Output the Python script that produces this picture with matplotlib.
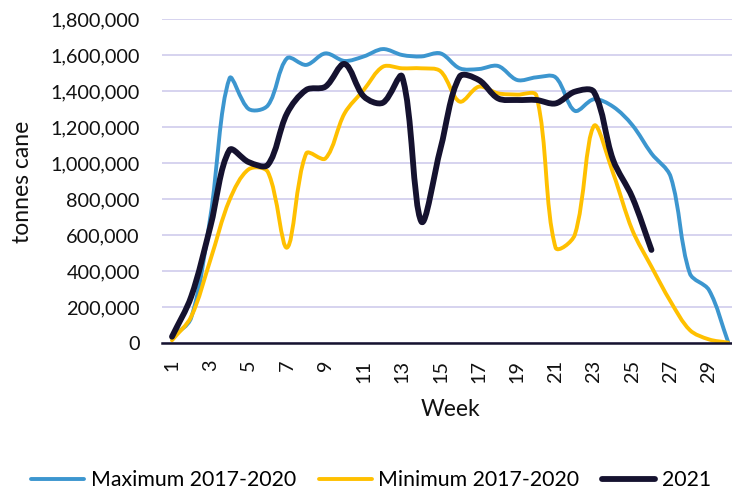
import matplotlib
matplotlib.use('Agg')
import matplotlib.pyplot as plt
from matplotlib.path import Path
from matplotlib.patches import PathPatch
from matplotlib.lines import Line2D
from matplotlib.ticker import FuncFormatter

plt.rcParams['font.family'] = ['Lato', 'DejaVu Sans']

# Dados (toneladas de cana por semana)
weeks = list(range(1, 31))
max_2017_2020 = [30000, 140000, 700000, 1470000, 1300000, 1320000, 1582000, 1545000,
                 1609000, 1567000, 1592000, 1633000, 1600000, 1592000, 1609000, 1526000,
                 1522000, 1539000, 1461000, 1476000, 1476000, 1290000, 1354000, 1313000,
                 1211000, 1053000, 924000, 387000, 294000, 5000]
min_2017_2020 = [15000, 146000, 461000, 794000, 965000, 950000, 530000, 1053000,
                 1025000, 1276000, 1406000, 1535000, 1526000, 1526000, 1510000, 1341000,
                 1424000, 1387000, 1380000, 1375000, 530000, 600000, 1206000, 944000,
                 628000, 424000, 230000, 72000, 20000, 2000]
weeks_2021 = list(range(1, 27))
vals_2021 = [35000, 257000, 646000, 1072000, 1005000, 990000, 1276000, 1406000,
             1424000, 1550000, 1370000, 1335000, 1480000, 675000, 1080000, 1480000,
             1461000, 1359000, 1350000, 1350000, 1331000, 1396000, 1395000, 1017000,
             810000, 517000]

series = [
    ('Maximum 2017-2020', weeks, max_2017_2020, '#3C96CF', 2.8),
    ('Minimum 2017-2020', weeks, min_2017_2020, '#FFC000', 2.8),
    ('2021', weeks_2021, vals_2021, '#15122F', 4.2),
]

XLIM = (0.48, 30.2)
YLIM = (0, 1800000)
AX_W, AX_H = 570, 324  # tamanho da área do gráfico em pixels


def curva_suave(xs, ys):
    # linha suavizada estilo Excel: Bezier com tangentes ponderadas pela
    # distância em pixels entre pontos vizinhos
    sx = AX_W / (XLIM[1] - XLIM[0])
    sy = AX_H / (YLIM[1] - YLIM[0])
    pts = [(x * sx, y * sy) for x, y in zip(xs, ys)]
    n = len(pts)

    def dist(a, b):
        return ((a[0] - b[0]) ** 2 + (a[1] - b[1]) ** 2) ** 0.5

    ctrl_in, ctrl_out = [], []
    for i in range(n):
        p = pts[i]
        a = pts[i - 1] if i > 0 else p
        b = pts[i + 1] if i < n - 1 else p
        d_in, d_out = dist(a, p), dist(p, b)
        tot = d_in + d_out or 1.0
        tx, ty = b[0] - a[0], b[1] - a[1]
        k = 1 / 3
        ctrl_in.append((p[0] - tx * d_in / tot * k, p[1] - ty * d_in / tot * k))
        ctrl_out.append((p[0] + tx * d_out / tot * k, p[1] + ty * d_out / tot * k))

    verts = [pts[0]]
    codes = [Path.MOVETO]
    for i in range(n - 1):
        verts += [ctrl_out[i], ctrl_in[i + 1], pts[i + 1]]
        codes += [Path.CURVE4] * 3
    verts = [(vx / sx, vy / sy) for vx, vy in verts]
    return Path(verts, codes)


fig = plt.figure(figsize=(7.32, 4.96), dpi=100)
ax = fig.add_axes([162 / 732, 153 / 496, AX_W / 732, AX_H / 496])

for nome, xs, ys, cor, lw in series:
    patch = PathPatch(curva_suave(xs, ys), facecolor='none', edgecolor=cor,
                      linewidth=lw, capstyle='round', joinstyle='round', zorder=3)
    ax.add_patch(patch)

ax.set_xlim(*XLIM)
ax.set_ylim(*YLIM)
ax.set_yticks(range(0, 1800001, 200000))
ax.yaxis.set_major_formatter(FuncFormatter(lambda v, p: f'{v:,.0f}'))
ax.set_xticks(weeks[::2])
ax.set_xticklabels([str(w) for w in weeks[::2]], rotation=90)

ax.grid(axis='y', color='#D3D0EE', linewidth=1.3, zorder=0)
for lado in ['top', 'right', 'left']:
    ax.spines[lado].set_visible(False)
ax.spines['bottom'].set_color('#15122F')
ax.spines['bottom'].set_linewidth(1.8)
ax.spines['bottom'].set_zorder(4)
ax.tick_params(axis='both', length=0, labelsize=14.3, colors='#111111')
ax.tick_params(axis='y', pad=16)
ax.tick_params(axis='x', pad=12)

fig.text(23 / 732, 1 - 182 / 496, 'tonnes cane', rotation=90, fontsize=16.5,
         ha='center', va='center', color='#111111')
fig.text(450 / 732, 1 - 409 / 496, 'Week', fontsize=16.5,
         ha='center', va='center', color='#111111')

handles = [Line2D([], [], color=c, linewidth=lw, solid_capstyle='round')
           for _, _, _, c, lw in series]
fig.legend(handles, [s[0] for s in series], loc='center', ncol=3,
           bbox_to_anchor=(371 / 732, 1 - 480 / 496), frameon=False, fontsize=15.3,
           handlelength=2.5, handletextpad=0.3, columnspacing=1.08,
           borderpad=0, borderaxespad=0)

fig.savefig('out.png', dpi=100)
